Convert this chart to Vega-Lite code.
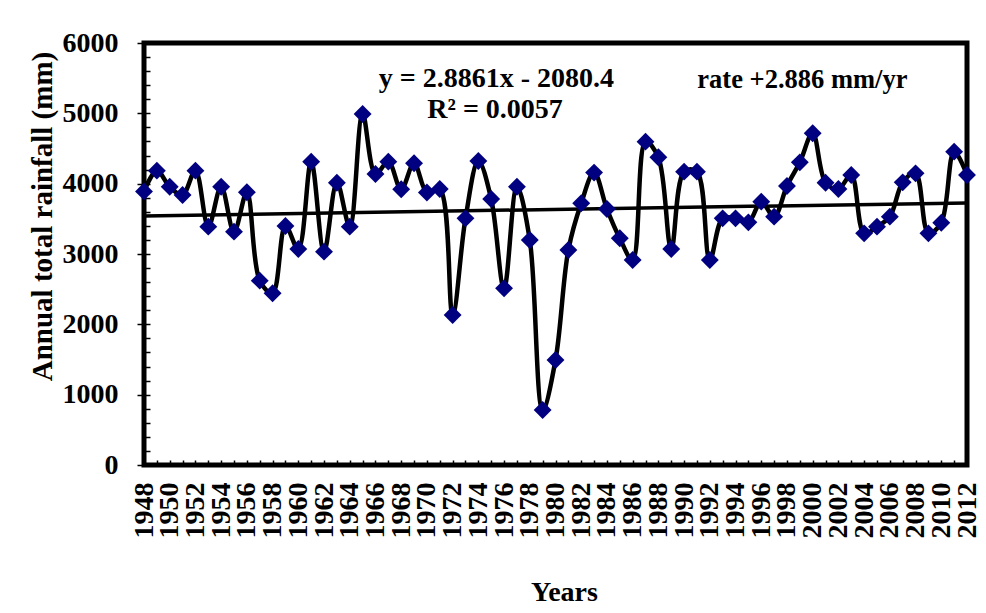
{
  "$schema": "https://vega.github.io/schema/vega-lite/v6.json",
  "width": 823,
  "height": 422,
  "autosize": {"type": "none"},
  "padding": {"left": 144, "top": 43, "right": 19, "bottom": 148},
  "background": "white",
  "view": {"stroke": "black", "strokeWidth": 5},
  "config": {
    "font": "Liberation Serif",
    "axis": {
      "grid": false,
      "domain": false,
      "labelFont": "Liberation Serif",
      "labelFontWeight": "bold",
      "labelColor": "black",
      "titleFont": "Liberation Serif",
      "titleFontWeight": "bold",
      "titleColor": "black",
      "tickColor": "black"
    }
  },
  "datasets": {
    "rain": [
      {"year": 1948, "rainfall": 3890}, {"year": 1949, "rainfall": 4185}, {"year": 1950, "rainfall": 3957},
      {"year": 1951, "rainfall": 3839}, {"year": 1952, "rainfall": 4185}, {"year": 1953, "rainfall": 3389},
      {"year": 1954, "rainfall": 3957}, {"year": 1955, "rainfall": 3318}, {"year": 1956, "rainfall": 3877},
      {"year": 1957, "rainfall": 2621}, {"year": 1958, "rainfall": 2441}, {"year": 1959, "rainfall": 3398},
      {"year": 1960, "rainfall": 3071}, {"year": 1961, "rainfall": 4313}, {"year": 1962, "rainfall": 3033},
      {"year": 1963, "rainfall": 4014}, {"year": 1964, "rainfall": 3389}, {"year": 1965, "rainfall": 4990},
      {"year": 1966, "rainfall": 4138}, {"year": 1967, "rainfall": 4313}, {"year": 1968, "rainfall": 3920},
      {"year": 1969, "rainfall": 4290}, {"year": 1970, "rainfall": 3875}, {"year": 1971, "rainfall": 3924},
      {"year": 1972, "rainfall": 2133}, {"year": 1973, "rainfall": 3507}, {"year": 1974, "rainfall": 4322},
      {"year": 1975, "rainfall": 3782}, {"year": 1976, "rainfall": 2512}, {"year": 1977, "rainfall": 3957},
      {"year": 1978, "rainfall": 3199}, {"year": 1979, "rainfall": 782}, {"year": 1980, "rainfall": 1493},
      {"year": 1981, "rainfall": 3057}, {"year": 1982, "rainfall": 3721}, {"year": 1983, "rainfall": 4157},
      {"year": 1984, "rainfall": 3640}, {"year": 1985, "rainfall": 3223}, {"year": 1986, "rainfall": 2915},
      {"year": 1987, "rainfall": 4597}, {"year": 1988, "rainfall": 4375}, {"year": 1989, "rainfall": 3071},
      {"year": 1990, "rainfall": 4171}, {"year": 1991, "rainfall": 4171}, {"year": 1992, "rainfall": 2915},
      {"year": 1993, "rainfall": 3507}, {"year": 1994, "rainfall": 3507}, {"year": 1995, "rainfall": 3450},
      {"year": 1996, "rainfall": 3744}, {"year": 1997, "rainfall": 3531}, {"year": 1998, "rainfall": 3967},
      {"year": 1999, "rainfall": 4303}, {"year": 2000, "rainfall": 4716}, {"year": 2001, "rainfall": 4014},
      {"year": 2002, "rainfall": 3924}, {"year": 2003, "rainfall": 4123}, {"year": 2004, "rainfall": 3294},
      {"year": 2005, "rainfall": 3389}, {"year": 2006, "rainfall": 3531}, {"year": 2007, "rainfall": 4019},
      {"year": 2008, "rainfall": 4147}, {"year": 2009, "rainfall": 3294}, {"year": 2010, "rainfall": 3445},
      {"year": 2011, "rainfall": 4455}, {"year": 2012, "rainfall": 4123}
    ],
    "trend": [
      {"year": 1948, "rainfall": 3541.7},
      {"year": 2012, "rainfall": 3726.4}
    ],
    "notes": [
      {"year": 1975.4, "rainfall": 5375, "label": "y = 2.8861x - 2080.4"},
      {"year": 1975.3, "rainfall": 4934, "label": "R² = 0.0057"}
    ],
    "rate": [
      {"year": 1999.2, "rainfall": 5360, "label": "rate +2.886 mm/yr"}
    ]
  },
  "layer": [
    {
      "data": {"name": "rain"},
      "mark": {"type": "line", "interpolate": "catmull-rom", "color": "black", "strokeWidth": 4.5},
      "encoding": {
        "x": {
          "field": "year", "type": "quantitative",
          "scale": {"domain": [1948, 2012], "nice": false, "zero": false},
          "axis": {
            "orient": "bottom",
            "values": [1948,1950,1952,1954,1956,1958,1960,1962,1964,1966,1968,1970,1972,1974,1976,1978,1980,1982,1984,1986,1988,1990,1992,1994,1996,1998,2000,2002,2004,2006,2008,2010,2012],
            "format": "d",
            "ticks": false,
            "tickSize": 0,
            "labelAngle": -90,
            "labelPadding": 17,
            "labelFontSize": 28,
            "labelOverlap": false,
            "labelFlush": false,
            "title": "Years",
            "titleFontSize": 28,
            "titleX": 420,
            "titleY": 135,
            "titleBaseline": "alphabetic"
          }
        },
        "y": {
          "field": "rainfall", "type": "quantitative",
          "scale": {"domain": [0, 6000], "nice": false},
          "axis": {
            "orient": "left",
            "values": [0, 1000, 2000, 3000, 4000, 5000, 6000],
            "format": "d",
            "tickSize": 7,
            "tickWidth": 1.5,
            "labelPadding": 19,
            "labelFontSize": 28,
            "title": "Annual total rainfall (mm)",
            "titleFontSize": 29,
            "titleX": -102,
            "titleY": 173,
            "titleBaseline": "middle"
          }
        }
      }
    },
    {
      "data": {"name": "trend"},
      "mark": {"type": "line", "color": "black", "strokeWidth": 3.5},
      "encoding": {
        "x": {
          "field": "year", "type": "quantitative",
          "axis": {
            "orient": "bottom",
            "values": [1948,1949,1950,1951,1952,1953,1954,1955,1956,1957,1958,1959,1960,1961,1962,1963,1964,1965,1966,1967,1968,1969,1970,1971,1972,1973,1974,1975,1976,1977,1978,1979,1980,1981,1982,1983,1984,1985,1986,1987,1988,1989,1990,1991,1992,1993,1994,1995,1996,1997,1998,1999,2000,2001,2002,2003,2004,2005,2006,2007,2008,2009,2010,2011,2012],
            "tickSize": -5,
            "tickWidth": 1.5,
            "labels": false,
            "title": null
          }
        },
        "y": {
          "field": "rainfall", "type": "quantitative",
          "axis": {
            "orient": "left",
            "values": [0,200,400,600,800,1000,1200,1400,1600,1800,2000,2200,2400,2600,2800,3000,3200,3400,3600,3800,4000,4200,4400,4600,4800,5000,5200,5400,5600,5800,6000],
            "tickSize": -6,
            "tickWidth": 1.5,
            "labels": false,
            "title": null
          }
        }
      }
    },
    {
      "data": {"name": "rain"},
      "mark": {"type": "point", "shape": "diamond", "filled": true, "color": "#000080", "size": 320, "opacity": 1},
      "encoding": {
        "x": {"field": "year", "type": "quantitative", "axis": null},
        "y": {"field": "rainfall", "type": "quantitative", "axis": null}
      }
    },
    {
      "data": {"name": "notes"},
      "mark": {"type": "text", "font": "Liberation Serif", "fontWeight": "bold", "fontSize": 28, "baseline": "alphabetic", "align": "center", "color": "black"},
      "encoding": {
        "x": {"field": "year", "type": "quantitative", "axis": null},
        "y": {"field": "rainfall", "type": "quantitative", "axis": null},
        "text": {"field": "label"}
      }
    },
    {
      "data": {"name": "rate"},
      "mark": {"type": "text", "font": "Liberation Serif", "fontWeight": "bold", "fontSize": 26.5, "baseline": "alphabetic", "align": "center", "color": "black"},
      "encoding": {
        "x": {"field": "year", "type": "quantitative", "axis": null},
        "y": {"field": "rainfall", "type": "quantitative", "axis": null},
        "text": {"field": "label"}
      }
    }
  ],
  "resolve": {"axis": {"x": "independent", "y": "independent"}}
}
